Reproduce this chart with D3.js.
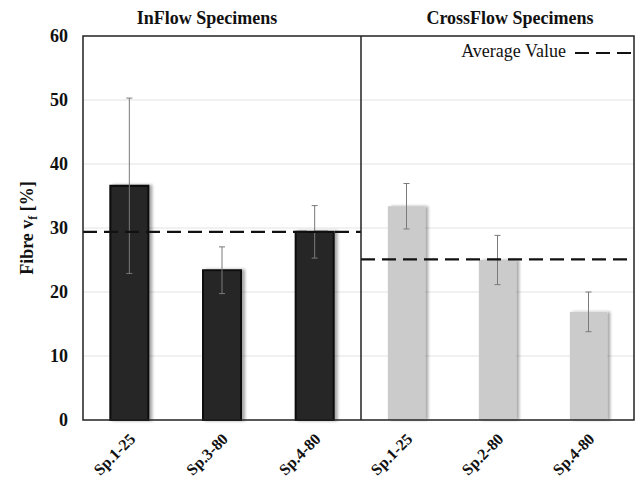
<!DOCTYPE html>
<html>
<head>
<meta charset="utf-8">
<script src="https://cdn.jsdelivr.net/npm/d3@7"></script>
<style>
  html, body { margin: 0; padding: 0; background: #fff; }
  svg { display: block; }
  text { font-family: "Liberation Serif", "Times New Roman", serif; fill: #111; }
</style>
</head>
<body>
<svg id="chart" width="638" height="480"></svg>
<script>
// Fibre volume fraction per specimen, two flow orientations
const inflowCats = ["Sp.1-25", "Sp.3-80", "Sp.4-80"];
const inflowVals = [36.6, 23.4, 29.4];
const inflowErr = [13.7, 3.65, 4.1];
const inflowAvg = 29.4;

const crossCats = ["Sp.1-25", "Sp.2-80", "Sp.4-80"];
const crossVals = [33.4, 25.0, 16.9];
const crossErr = [3.55, 3.85, 3.1];
const crossAvg = 25.1;

const yTicks = [0, 10, 20, 30, 40, 50, 60];

const svg = d3.select("#chart");
const plotL = 83, plotR = 634, plotT = 36, plotB = 420, plotMid = 361;

const defs = svg.append("defs");
const f = defs.append("filter").attr("id", "shadow")
  .attr("x", "-10%").attr("y", "-5%").attr("width", "130%").attr("height", "110%");
f.append("feGaussianBlur").attr("in", "SourceAlpha").attr("stdDeviation", 1.6).attr("result", "b");
f.append("feOffset").attr("in", "b").attr("dx", 3).attr("dy", 0).attr("result", "o");
f.append("feComponentTransfer").attr("in", "o").attr("result", "s")
  .append("feFuncA").attr("type", "linear").attr("slope", 0.35);
const fm = f.append("feMerge");
fm.append("feMergeNode").attr("in", "s");
fm.append("feMergeNode").attr("in", "SourceGraphic");

const y = d3.scaleLinear().domain([0, 60]).range([plotB, plotT]);

// gridlines
svg.append("g").selectAll("line").data(yTicks.filter(d => d > 0 && d < 60)).join("line")
  .attr("x1", plotL).attr("x2", plotR)
  .attr("y1", d => y(d)).attr("y2", d => y(d))
  .attr("stroke", "#e3e3e3").attr("stroke-width", 1.2);

function panel(cats, vals, errs, avg, x0, x1, fill, stroke) {
  const x = d3.scaleBand().domain(cats).range([x0, x1]).paddingInner(0.59).paddingOuter(0.295);
  const cx = d => x(d) + x.bandwidth() / 2;
  const g = svg.append("g");
  g.selectAll("rect").data(cats).join("rect")
    .attr("x", d => x(d)).attr("width", x.bandwidth())
    .attr("y", (d, i) => y(vals[i])).attr("height", (d, i) => y(0) - y(vals[i]))
    .attr("fill", fill)
    .attr("stroke", stroke || "none").attr("stroke-width", stroke ? 2 : 0)
    .attr("filter", "url(#shadow)");
  // error bars
  const eg = g.selectAll("g.err").data(cats).join("g").attr("class", "err")
    .attr("stroke", "#7a7a7a").attr("stroke-width", 1);
  eg.append("line")
    .attr("x1", cx).attr("x2", cx)
    .attr("y1", (d, i) => y(vals[i] + errs[i])).attr("y2", (d, i) => y(vals[i] - errs[i]));
  [1, -1].forEach(s => {
    eg.append("line")
      .attr("x1", d => cx(d) - 3).attr("x2", d => cx(d) + 3)
      .attr("y1", (d, i) => y(vals[i] + s * errs[i])).attr("y2", (d, i) => y(vals[i] + s * errs[i]));
  });
  // average line
  g.append("line").attr("x1", x0).attr("x2", x1).attr("y1", y(avg)).attr("y2", y(avg))
    .attr("stroke", "#111").attr("stroke-width", 2.2).attr("stroke-dasharray", "14,7");
  // category labels, slanted at 45 degrees
  svg.append("g").selectAll("text").data(cats).join("text")
    .attr("transform", d => `translate(${cx(d) + 7},${plotB + 20}) rotate(-45)`)
    .attr("text-anchor", "end")
    .attr("font-weight", "bold").attr("font-size", 16)
    .text(d => d);
  return x;
}

panel(inflowCats, inflowVals, inflowErr, inflowAvg, plotL, plotMid, "#282828", "#0a0a0a");
panel(crossCats, crossVals, crossErr, crossAvg, plotMid, plotR, "#cbcbcb", null);

// frame and divider
svg.append("rect").attr("x", plotL).attr("y", plotT).attr("width", plotR - plotL).attr("height", plotB - plotT)
  .attr("fill", "none").attr("stroke", "#222").attr("stroke-width", 1.5);
svg.append("line").attr("x1", plotMid).attr("x2", plotMid).attr("y1", plotT).attr("y2", plotB)
  .attr("stroke", "#222").attr("stroke-width", 1.5);

// y axis labels
const ya = svg.append("g").attr("transform", `translate(${plotL},0)`)
  .call(d3.axisLeft(y).tickValues(yTicks).tickSize(0).tickPadding(15));
ya.select(".domain").remove();
ya.attr("font-family", null);
ya.selectAll("text").attr("font-weight", "bold").attr("font-size", 18).attr("fill", "#111");

// y title
const yt = svg.append("text").attr("transform", `translate(33,${(plotT + plotB) / 2}) rotate(-90)`)
  .attr("text-anchor", "middle").attr("font-weight", "bold").attr("font-size", 18);
yt.append("tspan").text("Fibre v");
yt.append("tspan").text("f").attr("font-size", 12).attr("dy", 4);
yt.append("tspan").text(" [%]").attr("dy", -4);

// panel titles
svg.append("text").attr("x", 207).attr("y", 24).attr("text-anchor", "middle")
  .attr("font-weight", "bold").attr("font-size", 18).text("InFlow Specimens");
svg.append("text").attr("x", 510).attr("y", 24).attr("text-anchor", "middle")
  .attr("font-weight", "bold").attr("font-size", 18).text("CrossFlow Specimens");

// legend
svg.append("text").attr("x", 566).attr("y", 57).attr("text-anchor", "end")
  .attr("font-size", 18).text("Average Value");
svg.append("line").attr("x1", 575).attr("x2", 632).attr("y1", 53).attr("y2", 53)
  .attr("stroke", "#111").attr("stroke-width", 2.2).attr("stroke-dasharray", "14,7");
</script>
</body>
</html>
